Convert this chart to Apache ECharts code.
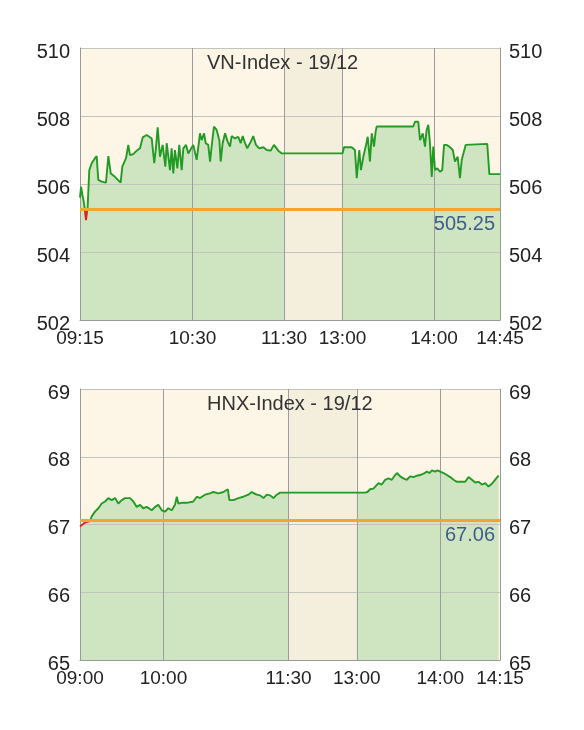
<!DOCTYPE html>
<html>
<head>
<meta charset="utf-8">
<script src="https://cdn.jsdelivr.net/npm/echarts@6/dist/echarts.min.js"></script>
<style>
  html, body { margin: 0; padding: 0; background: #ffffff; }
  #chart { width: 584px; height: 730px; }
</style>
</head>
<body>
<div id="chart"></div>
<script>
// ---------- VN-Index (x = trading minutes from 09:15, lunch break compressed) ----------
var vnTitle = 'VN-Index - 19/12';
var vnRef = 505.25;
var vnTickValues = [0, 75, 136, 175, 236, 280];
var vnTickLabels = ['09:15', '10:30', '11:30', '13:00', '14:00', '14:45'];
var vnLunch = [136, 175];
var vnTime = [0, 0.7, 1.8, 2.7, 4, 5.1, 6.2, 7.8, 10, 11.1, 12.2, 14.5, 17.3, 18.9, 20.5, 23.3, 27.1, 28.2, 30.7, 32.2,
  33.3, 35.5, 37.8, 40, 41.8, 44.5, 47.8, 49.5, 50.5, 51.8, 53.3, 55.1, 56.9, 57.8, 60, 61.1, 62.2, 63.3, 64.9, 66.2,
  67.8, 68.9, 70.7, 72.2, 73.8, 75.5, 77.8, 80, 81.1, 82.7, 83.8, 85.5, 86.7, 88, 89.3, 91.1, 92.9, 93.8, 95.1, 96.7,
  98.5, 100, 101.1, 103.3, 105.5, 107.1, 108.5, 110, 111.5, 113.8, 115.5, 117.3, 119.5, 122.2, 124.5, 127.1, 129.3, 132.2, 134.5, 136,
  175, 176, 181.1, 183.3, 184.5, 186.2, 187.3, 188.9, 190.7, 191.8, 193.3, 194.5, 196, 197.1, 197.8, 222.2, 223.3, 225.5, 226.7, 228.5,
  230, 231.1, 232.2, 233.3, 234.5, 235.5, 236.7, 238.2, 240, 241.5, 242.7, 244.5, 246.7, 248.5, 250, 251.8, 253.3, 254.5, 255.5, 257.1,
  258.2, 271.5, 272.9, 280];
var vnValue = [505.6, 505.92, 505.63, 505.43, 504.94, 505.33, 506.41, 506.61, 506.76, 506.82, 506.12, 506.07, 506.04, 506.82, 506.31, 506.21, 506.04, 506.51, 506.76, 507.15,
  506.85, 506.88, 506.98, 507.05, 507.37, 507.44, 507.34, 506.61, 507.00, 507.67, 506.80, 507.15, 506.51, 507.20, 506.41, 507.05, 506.31, 507.00, 506.46, 507.15,
  506.41, 507.05, 507.15, 506.90, 507.02, 507.15, 506.71, 507.49, 507.29, 507.49, 507.20, 507.15, 506.66, 507.20, 507.69, 507.59, 507.29, 506.66, 507.20, 507.49,
  507.24, 507.10, 507.41, 507.34, 507.39, 507.20, 507.41, 507.20, 507.05, 507.24, 507.41, 507.15, 507.05, 507.08, 507.00, 506.98, 507.15, 506.98, 506.90, 506.90,
  506.90, 507.08, 507.08, 507.00, 506.17, 507.00, 506.41, 506.80, 507.15, 507.39, 506.66, 507.49, 507.10, 507.54, 507.69, 507.69, 507.83, 507.83, 507.29, 507.49,
  507.10, 507.59, 507.74, 507.20, 506.21, 507.10, 506.41, 506.46, 506.36, 506.41, 507.15, 507.15, 507.08, 507.00, 506.66, 506.80, 506.17, 506.71, 506.66, 507.15,
  507.18, 507.18, 506.29, 506.29];
var vnYMin = 502, vnYMax = 510, vnYStep = 2;

// ---------- HNX-Index (x = trading minutes from 09:00, lunch break compressed) ----------
var hnxTitle = 'HNX-Index - 19/12';
var hnxRef = 67.06;
var hnxTickValues = [0, 60, 150, 199, 259, 302];
var hnxTickLabels = ['09:00', '10:00', '11:30', '13:00', '14:00', '14:15'];
var hnxLunch = [150, 199];
var hnxTime = [0, 3.6, 7.2, 8.4, 10.8, 13.2, 15.6, 18, 20.4, 22.8, 25.2, 27.6, 30, 32.4, 36, 38.3, 40.8, 43.2, 45.5, 48,
  51.6, 54, 56.3, 58.8, 61.2, 63.5, 66, 68.3, 69.6, 70.7, 73.2, 76.8, 81.5, 84, 86.3, 89.9, 93.5, 95.9, 99.5, 103.1,
  106.3, 107.4, 110.3, 113.9, 117.5, 121.1, 123.5, 125.2, 127.1, 129.5, 131.9, 134.3, 136.7, 139.1, 141.5, 143.9, 147.5, 150, 199, 205,
  206.7, 208.6, 211, 214.6, 217, 219.4, 221.8, 224.2, 226.6, 227.9, 230.2, 232.6, 235, 237.4, 239.8, 242.2, 244.6, 247, 249.4, 251.3,
  253, 255.4, 257.1, 259, 261.4, 263.8, 266.2, 268.6, 271, 274.6, 277, 279.4, 281.8, 284.2, 286.5, 289, 291.4, 293.7, 295.5, 297.3,
  299.3, 301];
var hnxValue = [66.97, 67.03, 67.05, 67.12, 67.19, 67.24, 67.31, 67.34, 67.39, 67.36, 67.39, 67.31, 67.36, 67.39, 67.39, 67.34, 67.26, 67.29, 67.24, 67.26,
  67.21, 67.26, 67.29, 67.21, 67.19, 67.24, 67.21, 67.29, 67.41, 67.31, 67.32, 67.32, 67.34, 67.41, 67.39, 67.44, 67.46, 67.48, 67.46, 67.48,
  67.52, 67.36, 67.36, 67.39, 67.41, 67.44, 67.48, 67.46, 67.44, 67.43, 67.39, 67.44, 67.43, 67.39, 67.44, 67.47, 67.47, 67.47, 67.47, 67.47,
  67.48, 67.52, 67.53, 67.61, 67.59, 67.66, 67.68, 67.66, 67.73, 67.76, 67.71, 67.68, 67.66, 67.71, 67.70, 67.72, 67.73, 67.75, 67.78, 67.76,
  67.80, 67.78, 67.80, 67.78, 67.76, 67.73, 67.70, 67.66, 67.63, 67.63, 67.63, 67.70, 67.66, 67.62, 67.63, 67.59, 67.61, 67.56, 67.59, 67.63,
  67.68, 67.72];
var hnxYMin = 65, hnxYMax = 69, hnxYStep = 1;

// ---------- styling ----------
var FONT = "'Liberation Sans', Arial, Helvetica, sans-serif";
var C = {
  bg: '#fdf6e6', area: '#cfe5c1', band: '#f4efdc', line: '#239a23', down: '#e02020',
  ref: '#f2a535', refText: '#3d5f88', vgrid: '#9c9c9c', hgrid: '#c4c4be', axis: '#999999', text: '#222'
};

function zip(xs, ys) { return xs.map(function (x, i) { return [x, ys[i]]; }); }

// vertical gradient over the line's own bounding box: red where below the reference
function upDownColor(values, ref) {
  var mx = Math.max.apply(null, values), mn = Math.min.apply(null, values);
  var o = (mx - ref) / (mx - mn);
  return new echarts.graphic.LinearGradient(0, 0, 0, 1, [
    { offset: 0, color: C.line }, { offset: o, color: C.line },
    { offset: o, color: C.down }, { offset: 1, color: C.down }
  ]);
}

function xAxisFor(gridIndex, ticks, labels) {
  return {
    type: 'value', gridIndex: gridIndex, min: ticks[0], max: ticks[ticks.length - 1], z: 2,
    axisLine: { show: true, lineStyle: { color: C.axis, width: 1 } },
    axisTick: { show: false, customValues: ticks },
    axisLabel: {
      customValues: ticks, margin: 9, fontSize: 19, fontFamily: FONT, color: C.text,
      formatter: function (v) { var i = ticks.indexOf(v); return i >= 0 ? labels[i] : ''; }
    },
    splitLine: { show: true, lineStyle: { color: C.vgrid, width: 1 } }
  };
}
function yAxisFor(gridIndex, pos, mn, mx, step, split) {
  return {
    type: 'value', gridIndex: gridIndex, position: pos, min: mn, max: mx, interval: step, z: 2,
    axisLine: { show: true, lineStyle: { color: C.axis, width: 1 } },
    axisTick: { show: false },
    axisLabel: {
      margin: pos === 'left' ? 10 : 9, fontSize: 20, fontFamily: FONT, color: C.text,
      formatter: function (v) { return '{v|' + v + '}'; },
      rich: { v: { fontSize: 20, fontFamily: FONT, color: C.text, padding: [8, 0, 0, 0] } }
    },
    splitLine: { show: split, lineStyle: { color: C.hgrid, width: 1 } }
  };
}
function seriesFor(ax, yAx, times, values, ref, lunch, yMax) {
  var data = zip(times, values);
  return [
    { // area fill
      type: 'line', xAxisIndex: ax, yAxisIndex: yAx, data: data, z: 1, silent: true,
      symbol: 'none', lineStyle: { width: 0 }, areaStyle: { color: C.area, opacity: 1, origin: 'start' },
      animation: false
    },
    { // lunch break band
      type: 'line', xAxisIndex: ax, yAxisIndex: yAx, data: [[lunch[0], yMax], [lunch[1], yMax]], z: 1.5, silent: true,
      symbol: 'none', lineStyle: { width: 0 }, areaStyle: { color: C.band, opacity: 1, origin: 'start' },
      animation: false
    },
    { // index line
      type: 'line', xAxisIndex: ax, yAxisIndex: yAx, data: data, z: 3, silent: true,
      symbol: 'none', lineStyle: { width: 1.9, color: upDownColor(values, ref) }, animation: false,
      markLine: {
        silent: true, symbol: 'none', animation: false,
        lineStyle: { color: C.ref, width: 3, type: 'solid' },
        label: {
          show: true, position: 'insideEndBottom', distance: [5, 5],
          fontSize: 20, fontFamily: FONT, color: C.refText,
          formatter: function (p) { return p.value.toFixed(2); }
        },
        data: [{ yAxis: ref }]
      }
    }
  ];
}

var chart = echarts.init(document.getElementById('chart'), null, { renderer: 'canvas' });
var titleStyle = { fontSize: 20, fontWeight: 'normal', fontFamily: FONT, color: '#333' };
var option = {
  backgroundColor: '#ffffff',
  animation: false,
  title: [
    { text: vnTitle, left: 207, top: 53, padding: 0, textStyle: titleStyle },
    { text: hnxTitle, left: 207, top: 394, padding: 0, textStyle: titleStyle }
  ],
  grid: [
    { left: 80, top: 48, width: 420, height: 272, show: true, backgroundColor: C.bg, borderWidth: 0 },
    { left: 80, top: 389, width: 420, height: 271, show: true, backgroundColor: C.bg, borderWidth: 0 }
  ],
  xAxis: [xAxisFor(0, vnTickValues, vnTickLabels), xAxisFor(1, hnxTickValues, hnxTickLabels)],
  yAxis: [
    yAxisFor(0, 'left', vnYMin, vnYMax, vnYStep, true),
    yAxisFor(0, 'right', vnYMin, vnYMax, vnYStep, false),
    yAxisFor(1, 'left', hnxYMin, hnxYMax, hnxYStep, true),
    yAxisFor(1, 'right', hnxYMin, hnxYMax, hnxYStep, false)
  ],
  series: [].concat(
    seriesFor(0, 0, vnTime, vnValue, vnRef, vnLunch, vnYMax),
    seriesFor(1, 2, hnxTime, hnxValue, hnxRef, hnxLunch, hnxYMax)
  )
};
chart.setOption(option);
</script>
</body>
</html>
